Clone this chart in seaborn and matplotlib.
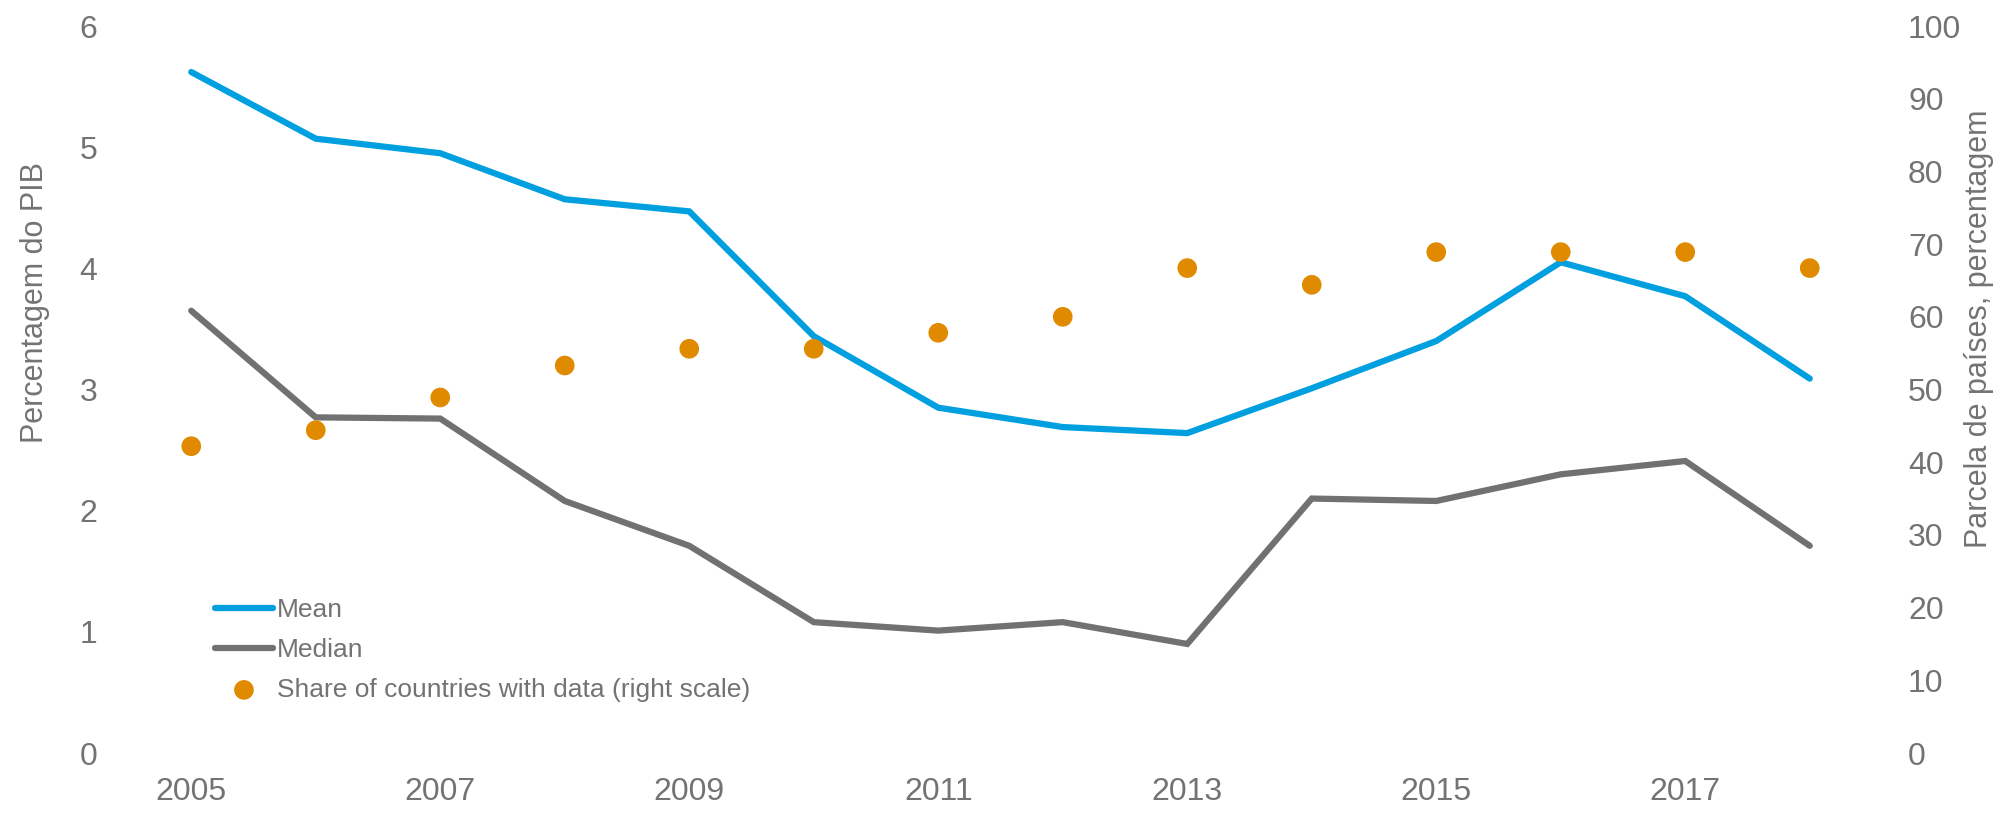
import matplotlib
matplotlib.use("Agg")
import matplotlib.pyplot as plt
import seaborn as sns
import numpy as np

years = list(range(2005, 2019))
mean_vals = [5.62, 5.07, 4.95, 4.57, 4.47, 3.44, 2.85, 2.69, 2.64, 3.01, 3.40, 4.05, 3.77, 3.09]
median_vals = [3.65, 2.77, 2.76, 2.08, 1.71, 1.08, 1.01, 1.08, 0.90, 2.10, 2.08, 2.30, 2.41, 1.71]
share_vals = [42.2, 44.4, 48.9, 53.3, 55.6, 55.6, 57.8, 60.0, 66.7, 64.4, 68.9, 68.9, 68.9, 66.7]
xtick_years = [2005, 2007, 2009, 2011, 2013, 2015, 2017]
left_ticks = [0, 1, 2, 3, 4, 5, 6]
right_ticks = [0, 10, 20, 30, 40, 50, 60, 70, 80, 90, 100]

BLUE = "#009FDF"
GREY = "#717171"
ORANGE = "#E08A00"
TXT = "#737373"

sns.set_theme(style="white")
plt.rcParams['font.family'] = ['Liberation Sans', 'DejaVu Sans']

fig = plt.figure(figsize=(20.10, 8.13), dpi=100)
ax = fig.add_axes([129/2010, 1 - 753/813, (1872-129)/2010, (753-26)/813])

sns.lineplot(x=years, y=mean_vals, ax=ax, color=BLUE, label="Mean",
             solid_capstyle="round", solid_joinstyle="miter")
sns.lineplot(x=years, y=median_vals, ax=ax, color=GREY, label="Median",
             solid_capstyle="round", solid_joinstyle="miter")
for ln in ax.lines:
    ln.set_linewidth(4.5)
    ln.set_solid_capstyle("round")

ax2 = ax.twinx()
sns.scatterplot(x=years, y=share_vals, ax=ax2, color=ORANGE, s=200, edgecolor="none",
                label="Share of countries with data (right scale)", zorder=5)

ax.set_xlim(2004.5, 2018.5)
ax.set_ylim(0, 6)
ax2.set_ylim(0, 100)
ax.set_xticks(xtick_years)
ax.set_xticklabels([str(y) for y in xtick_years])
ax.set_yticks(left_ticks)
ax.set_yticklabels([str(v) for v in left_ticks])
ax2.set_yticks(right_ticks)
ax2.set_yticklabels([str(v) for v in right_ticks])

for a in (ax, ax2):
    for s in a.spines.values():
        s.set_visible(False)
    a.grid(False)
    a.tick_params(axis="both", length=0, labelsize=23, colors=TXT)

ax.tick_params(axis="x", pad=17)
ax.tick_params(axis="y", pad=23)
ax2.tick_params(axis="y", pad=26)

ax.set_ylabel("Percentagem do PIB", fontsize=22, color=TXT)
ax.yaxis.set_label_coords(-0.0453, 0.620)
ax2.set_ylabel("Parcela de países, percentagem", fontsize=22, color=TXT)
ax2.yaxis.set_label_coords(1.053, 0.584)
ax.set_xlabel("")

h1, l1 = ax.get_legend_handles_labels()
h2, l2 = ax2.get_legend_handles_labels()
for a in (ax, ax2):
    if a.get_legend() is not None:
        a.get_legend().remove()
leg = ax2.legend(h1 + h2, l1 + l2, loc="upper left", bbox_to_anchor=(0.0493, 0.213),
                 frameon=False, fontsize=19, handlelength=2.2, handletextpad=0.15,
                 labelspacing=0.6, borderaxespad=0, borderpad=0)
for t in leg.get_texts():
    t.set_color(TXT)
for lh in leg.get_lines():
    lh.set_linewidth(4.5)
    lh.set_solid_capstyle("round")

fig.savefig("out.png", dpi=100, facecolor="white")
